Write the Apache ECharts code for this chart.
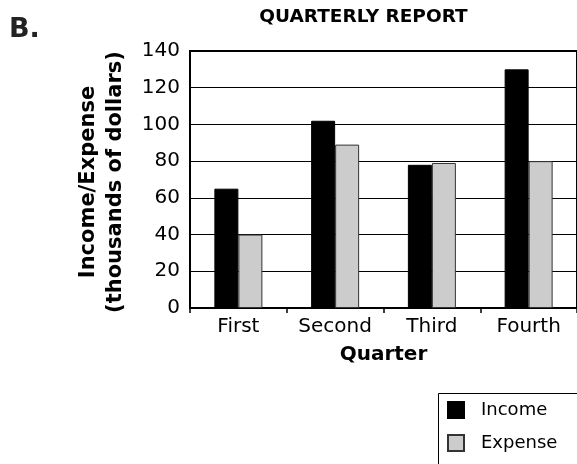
<!DOCTYPE html>
<html>
<head>
<meta charset="utf-8">
<script src="https://cdn.jsdelivr.net/npm/echarts@6/dist/echarts.min.js"></script>
<style>
  html, body { margin: 0; padding: 0; background: #fff; }
  #chart { width: 577px; height: 464px; }
</style>
</head>
<body>
<div id="chart"></div>
<script>
// Quarterly income and expense, thousands of dollars
const quarters = ['First', 'Second', 'Third', 'Fourth'];
const income = [65, 102, 78, 130];
const expense = [40, 89, 79, 80];
const yTicks = [0, 20, 40, 60, 80, 100, 120, 140];

const FONT = 'DejaVu Sans, Verdana, sans-serif';

const chart = echarts.init(document.getElementById('chart'), null, { renderer: 'canvas' });

chart.setOption({
  animation: false,
  backgroundColor: '#ffffff',
  title: [
    {
      text: 'B.',
      left: 4, top: 11,
      textStyle: { fontFamily: FONT, fontWeight: 'bold', fontSize: 27, color: '#222' }
    },
    {
      text: 'QUARTERLY REPORT',
      left: 358.5, top: 3, textAlign: 'center',
      textStyle: { fontFamily: FONT, fontWeight: 'bold', fontSize: 18.5, color: '#000' }
    }
  ],
  grid: {
    left: 190, top: 51, width: 389, height: 257,
    show: true, borderColor: '#000', borderWidth: 2, backgroundColor: 'transparent'
  },
  legend: {
    orient: 'vertical',
    left: 447, top: 401,
    padding: 0,
    icon: 'rect',
    itemWidth: 16, itemHeight: 16, itemGap: 15,
    textStyle: { fontFamily: FONT, fontSize: 18, color: '#000', padding: [0, 0, 0, 12] },
    data: ['Income', 'Expense']
  },
  xAxis: {
    type: 'category',
    data: quarters,
    name: 'Quarter',
    nameLocation: 'middle',
    nameGap: 37,
    nameTextStyle: { fontFamily: FONT, fontWeight: 'bold', fontSize: 20, color: '#000' },
    axisLine: { lineStyle: { color: '#000', width: 2 } },
    axisTick: { show: true, length: 5, lineStyle: { color: '#000', width: 1.5 } },
    axisLabel: { fontFamily: FONT, fontSize: 20, color: '#000', margin: 9 }
  },
  yAxis: {
    type: 'value',
    min: yTicks[0], max: yTicks[yTicks.length - 1], interval: 20,
    axisLine: { show: true, lineStyle: { color: '#000', width: 2 } },
    axisTick: { show: false },
    axisLabel: { fontFamily: FONT, fontSize: 20, color: '#000', margin: 10 },
    splitLine: { show: true, lineStyle: { color: '#000', width: 1 } }
  },
  series: [
    {
      name: 'Income', type: 'bar', data: income,
      barWidth: 24, barGap: '0%',
      itemStyle: { color: '#000000', borderColor: '#000', borderWidth: 1 }
    },
    {
      name: 'Expense', type: 'bar', data: expense,
      barWidth: 24, barGap: '0%',
      itemStyle: { color: '#cccccc', borderColor: '#333', borderWidth: 1 }
    }
  ],
  graphic: [
    {
      type: 'text',
      x: 102, y: 182,
      rotation: Math.PI / 2,
      style: {
        text: 'Income/Expense\n(thousands of dollars)',
        fontFamily: FONT, fontWeight: 'bold', fontSize: 21, lineHeight: 27,
        fill: '#000', align: 'center', verticalAlign: 'middle'
      }
    },
    {
      type: 'rect',
      shape: { x: 438.5, y: 393.5, width: 150, height: 80 },
      style: { fill: 'none', stroke: '#000', lineWidth: 1 }
    }
  ]
});
</script>
</body>
</html>
